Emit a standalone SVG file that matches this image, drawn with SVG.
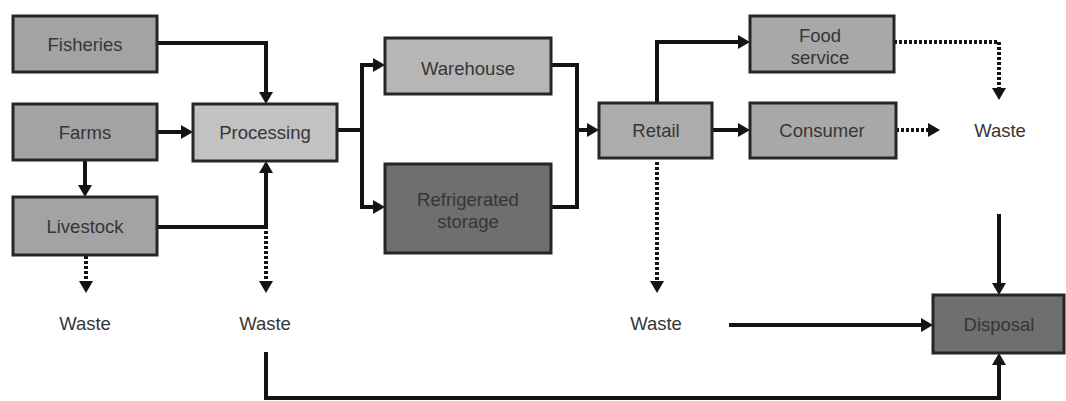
<svg xmlns="http://www.w3.org/2000/svg" width="1066" height="401" viewBox="0 0 1066 401">
<style>
.box{stroke:#262626;stroke-width:3}
.t{font-family:"Liberation Sans",Arial,sans-serif;font-size:18.5px;fill:#363636;text-anchor:middle;dominant-baseline:central}
.c{fill:none;stroke:#141414;stroke-width:4}
.d{fill:none;stroke:#141414;stroke-width:4;stroke-dasharray:3 2}
</style>
<defs>
<marker id="ah" markerUnits="userSpaceOnUse" markerWidth="13" markerHeight="14" refX="0" refY="7" orient="auto" overflow="visible">
<path d="M0,0 L12,7 L0,14 z" fill="#141414"/>
</marker>
</defs>
<rect width="1066" height="401" fill="#ffffff"/>
<g id="connectors">
<path class="c" d="M157,43 H266 V92" marker-end="url(#ah)"/>
<path class="c" d="M157,132 H181" marker-end="url(#ah)"/>
<path class="c" d="M85,160 V185" marker-end="url(#ah)"/>
<path class="c" d="M157,227 H266 V173" marker-end="url(#ah)"/>
<path class="d" d="M86,256 V281" marker-end="url(#ah)"/>
<path class="d" d="M266,231 V281" marker-end="url(#ah)"/>
<path class="c" d="M266,352 V398 H999 V365" marker-end="url(#ah)"/>
<path class="c" d="M337,130 H362"/>
<path class="c" d="M362,132 V65 H373" marker-end="url(#ah)"/>
<path class="c" d="M362,128 V207 H373" marker-end="url(#ah)"/>
<path class="c" d="M551,65 H577 V207 H551"/>
<path class="c" d="M577,130 H587" marker-end="url(#ah)"/>
<path class="c" d="M657,103 V42 H738" marker-end="url(#ah)"/>
<path class="c" d="M712,130 H738" marker-end="url(#ah)"/>
<path class="d" d="M894,42 H999 V88" marker-end="url(#ah)"/>
<path class="d" d="M896,130 H928" marker-end="url(#ah)"/>
<path class="c" d="M999,214 V283" marker-end="url(#ah)"/>
<path class="d" d="M657,162 V281" marker-end="url(#ah)"/>
<path class="c" d="M729,325 H921" marker-end="url(#ah)"/>
</g>
<g id="fisheries"><rect class="box" x="13" y="16" width="144" height="56" fill="#a3a3a3"/><text class="t" x="85" y="44">Fisheries</text></g>
<g id="farms"><rect class="box" x="13" y="104" width="144" height="56" fill="#a3a3a3"/><text class="t" x="85" y="132">Farms</text></g>
<g id="livestock"><rect class="box" x="13" y="197" width="144" height="58" fill="#a3a3a3"/><text class="t" x="85" y="226">Livestock</text></g>
<g id="processing"><rect class="box" x="193" y="104" width="144" height="57" fill="#c2c2c2"/><text class="t" x="265" y="132">Processing</text></g>
<g id="warehouse"><rect class="box" x="385" y="38" width="166" height="56" fill="#b6b6b6"/><text class="t" x="468" y="68">Warehouse</text></g>
<g id="refrigerated"><rect class="box" x="385" y="164" width="166" height="89" fill="#6f6f6f"/><text class="t" x="468" y="199">Refrigerated</text><text class="t" x="468" y="221">storage</text></g>
<g id="retail"><rect class="box" x="599" y="103" width="113" height="55" fill="#acacac"/><text class="t" x="656" y="130">Retail</text></g>
<g id="foodservice"><rect class="box" x="750" y="16" width="144" height="56" fill="#a8a8a8"/><text class="t" x="820" y="35">Food</text><text class="t" x="820" y="57">service</text></g>
<g id="consumer"><rect class="box" x="750" y="103" width="146" height="55" fill="#a8a8a8"/><text class="t" x="822" y="130">Consumer</text></g>
<g id="disposal"><rect class="box" x="933" y="295" width="131" height="58" fill="#6f6f6f"/><text class="t" x="999" y="324">Disposal</text></g>
<g id="waste1"><text class="t" x="85" y="323">Waste</text></g>
<g id="waste2"><text class="t" x="265" y="323">Waste</text></g>
<g id="waste3"><text class="t" x="656" y="323">Waste</text></g>
<g id="waste4"><text class="t" x="1000" y="130">Waste</text></g>
</svg>
